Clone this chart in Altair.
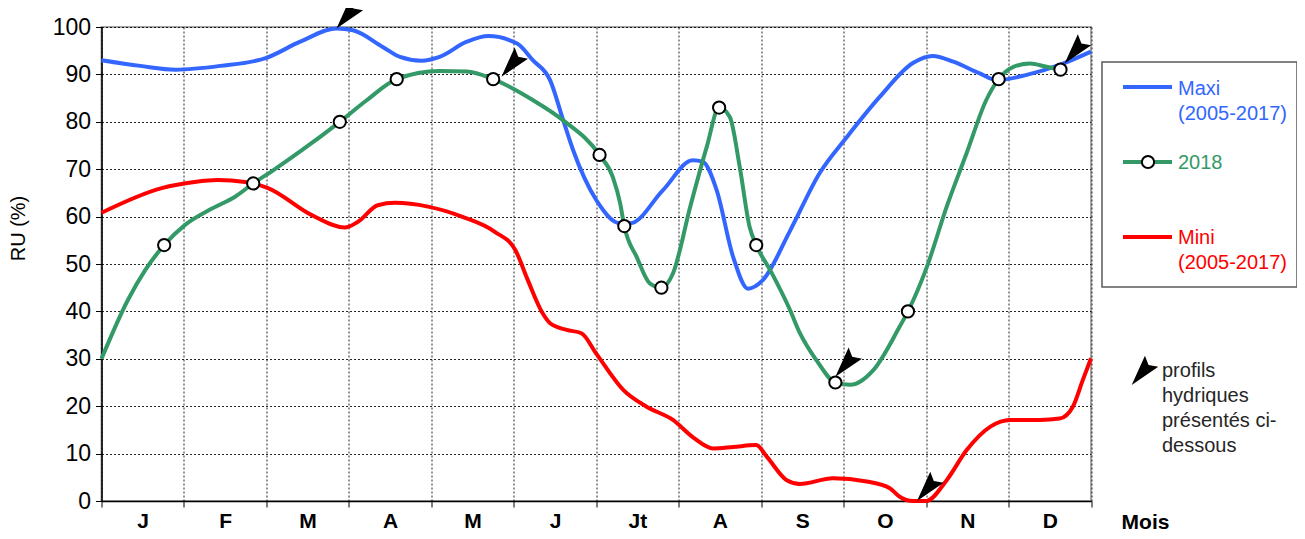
import altair as alt
import pandas as pd

months = ["J", "F", "M", "A", "M", "J", "Jt", "A", "S", "O", "N", "D"]

maxi_month = [0, 0.47, 0.9, 1.44, 2.0, 2.41, 2.85, 3.05, 3.41, 3.62, 3.88, 4.1, 4.43, 4.69,
              5.04, 5.23, 5.44, 5.6, 5.72, 6.0, 6.29, 6.41, 6.81, 7.17, 7.29, 7.46, 7.66,
              7.84, 8.02, 8.35, 8.71, 9.04, 9.44, 9.84, 10.08, 10.33, 10.65, 10.86, 11.22,
              11.62, 12.0]
maxi_value = [93, 91.8, 91, 91.8, 93.5, 96.9, 99.7, 99.3, 95.8, 93.7, 92.9, 93.7, 96.9, 98.1,
              96.5, 93, 88.8, 80.3, 74, 63.5, 58.6, 58.6, 65.6, 71.9, 71.6, 65.6, 51.5,
              44.8, 46.6, 57, 69.2, 76.8, 85.3, 92.4, 93.9, 92.7, 90.2, 88.8, 89.9,
              92, 94.8]

mini_month = [0, 0.73, 1.13, 1.41, 1.74, 2.02, 2.55, 2.95, 3.11, 3.35, 3.56, 3.96, 4.37, 4.77,
              5.02, 5.17, 5.35, 5.44, 5.64, 5.82, 6.0, 6.33, 6.61, 6.93, 7.17, 7.42, 7.66,
              7.94, 8.07, 8.31, 8.47, 8.87, 9.28, 9.56, 9.68, 9.84, 10.0, 10.25, 10.49,
              10.78, 11.02, 11.38, 11.62, 11.78, 11.9, 12.0]
mini_value = [60.8, 66, 67.3, 67.7, 67.3, 66, 60.3, 57.7, 58.9, 62.4, 62.9, 62.1, 60, 56.8,
              52.9, 46.6, 39.6, 37.5, 36.1, 35.4, 31.1, 23.4, 19.9, 17.1, 13.5, 11.1, 11.4,
              11.8, 9.3, 4.4, 3.6, 4.8, 4.1, 2.7, 0.9, 0, 0, 4.4, 10.7,
              15.7, 17.1, 17.1, 17.4, 19.9, 25.5, 30.1]

ru2018_month = [0, 0.32, 0.53, 0.76, 1.01, 1.34, 1.62, 1.84, 2.06, 2.43, 2.89, 3.22, 3.58,
                4.1, 4.43, 4.75, 5.23, 5.6, 6.04, 6.2, 6.29, 6.34, 6.49, 6.65, 6.79, 6.93,
                7.14, 7.34, 7.49, 7.62, 7.74, 7.86, 7.94, 8.11, 8.35, 8.47, 8.67, 8.9, 9.08,
                9.36, 9.68, 9.78, 10.01, 10.25, 10.49, 10.73, 10.88, 11.06, 11.26, 11.46, 11.63]
ru2018_value = [30, 42.4, 48.7, 54, 58.2, 61.7, 64.2, 67, 69.5, 74, 80, 84.6, 89,
                90.7, 90.6, 89, 84.6, 80.3, 73, 68.4, 62.8, 58, 51.5, 45.9, 45, 48,
                62.1, 74.7, 83, 81, 70.5, 57.8, 54, 48.7, 40.3, 35.4, 29.7, 25, 24.5,
                27.6, 36.8, 40, 49.4, 62.1, 73.3, 84.6, 89, 91.6, 92.3, 91.6, 91]

circle_month = [0.76, 1.84, 2.89, 3.58, 4.75, 6.04, 6.34, 6.79, 7.49, 7.94, 8.9, 9.78, 10.88, 11.63]
circle_value = [54, 67, 80, 89, 89, 73, 58, 45, 83, 54, 25, 40, 89, 91]

arrow_month = [2.85, 4.85, 8.9, 9.89, 11.68]
arrow_value = [99.7, 89.5, 26.2, 0.0, 92.3]

BLUE = "#3366FF"
GREEN = "#339966"
RED = "#FF0000"
FONT = "Liberation Sans"
ARROW = "M0,0 L-0.45,-1.6 L0,-1.35 L0.45,-1.6 Z"
ARROW_SIZE = 1500
CIRCLE_SIZE = 150

W, H = 989.5, 474

xscale = alt.Scale(domain=[0, 12], nice=False, zero=False)
yscale = alt.Scale(domain=[0, 100], nice=False)

label_expr = "[" + ",".join("'%s'" % m for m in months) + ",''][datum.value]"

x_axis = alt.Axis(values=list(range(13)), labelExpr=label_expr, labelOffset=41.2,
                  labelFontSize=21, labelFontWeight="bold", labelFont=FONT,
                  labelFlush=False, labelOverlap=False, tickSize=6, labelPadding=3,
                  title="Mois", titleX=1043.5, titleY=27, titleFontSize=21,
                  titleFontWeight="bold", titleFont=FONT, titleAlign="center",
                  titleBaseline="alphabetic")
y_axis = alt.Axis(values=list(range(0, 101, 10)), labelFontSize=23, labelFont=FONT,
                  tickSize=6, labelPadding=5, title="RU (%)", titleFontSize=20,
                  titleFontWeight="normal", titleFont=FONT, titleX=-83.5, titleY=201,
                  titleAlign="center", titleBaseline="middle", titleAngle=270)

X = alt.X("month:Q", scale=xscale, axis=x_axis)
Y = alt.Y("value:Q", scale=yscale, axis=y_axis)


def series_df(mx, vx):
    return pd.DataFrame({"month": mx, "value": vx})


def line(df, color):
    return alt.Chart(df).mark_line(color=color, strokeWidth=4, interpolate="monotone").encode(
        x=X, y=Y)


maxi_line = line(series_df(maxi_month, maxi_value), BLUE)
ru_line = line(series_df(ru2018_month, ru2018_value), GREEN)
mini_line = line(series_df(mini_month, mini_value), RED)

circles = alt.Chart(series_df(circle_month, circle_value)).mark_point(
    shape="circle", filled=True, fill="white", stroke="black", strokeWidth=2,
    size=CIRCLE_SIZE, opacity=1).encode(x=X, y=Y)

arrows = alt.Chart(series_df(arrow_month, arrow_value)).mark_point(
    shape=ARROW, filled=True, fill="black", strokeWidth=0, size=ARROW_SIZE, angle=40,
    opacity=1).encode(x=X, y=Y)

one = alt.Data(values=[{"k": 0}])

box = alt.Chart(one).mark_rect(fill="white", stroke="#595959", strokeWidth=1.5).encode(
    x=alt.value(1000.5), x2=alt.value(1195.5), y=alt.value(35), y2=alt.value(260))


def leg_rule(color, y):
    return alt.Chart(one).mark_rule(color=color, strokeWidth=4).encode(
        x=alt.value(1021.5), x2=alt.value(1070.5), y=alt.value(y))


def leg_text(lines, color, y, x=1076.5):
    return alt.Chart(one).mark_text(text=lines, align="left", baseline="alphabetic",
                                    fontSize=20, font=FONT, color=color, lineHeight=25).encode(
        x=alt.value(x), y=alt.value(y))


leg_circle = alt.Chart(one).mark_point(shape="circle", filled=True, fill="white",
                                       stroke="black", strokeWidth=2, size=CIRCLE_SIZE,
                                       opacity=1).encode(
    x=alt.value(1046.5), y=alt.value(135))

leg_arrow = alt.Chart(one).mark_point(shape=ARROW, filled=True, fill="black", strokeWidth=0,
                                      size=ARROW_SIZE, angle=40, opacity=1).encode(
    x=alt.value(1030.2), y=alt.value(358))

chart = alt.layer(
    maxi_line, ru_line, mini_line, circles, arrows,
    box,
    leg_rule(BLUE, 60), leg_text(["Maxi", "(2005-2017)"], BLUE, 68),
    leg_rule(GREEN, 135), leg_circle, leg_text(["2018"], GREEN, 142),
    leg_rule(RED, 210), leg_text(["Mini", "(2005-2017)"], RED, 217),
    leg_arrow,
    leg_text(["profils", "hydriques", "présentés ci-", "dessous"], "#262626", 350, x=1060.5),
).properties(
    width=W, height=H,
    autosize=alt.AutoSizeParams(type="none"),
    padding={"left": 93.5, "top": 19, "right": 206, "bottom": 30},
).configure_view(
    stroke="#a6a6a6", strokeWidth=2
).configure_axis(
    domainColor="black", domainWidth=1.5, tickColor="black", tickWidth=1,
    gridColor="black", gridDash=[2, 2], gridWidth=1, gridOpacity=0.85,
    labelColor="black", titleColor="black"
)

chart.save("out.html", embed_options={"renderer": "svg", "actions": False})
